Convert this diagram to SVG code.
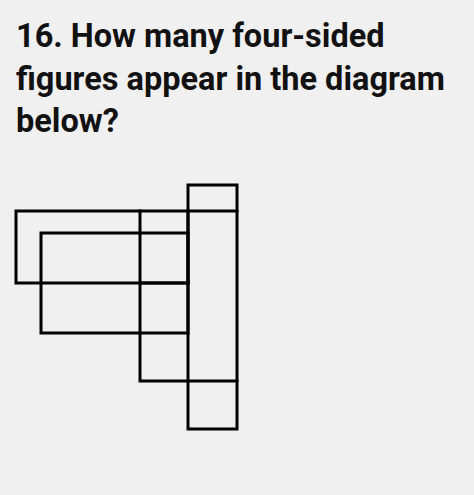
<svg xmlns="http://www.w3.org/2000/svg" width="474" height="495" viewBox="0 0 474 495">
<style>
.q{font-family:Roboto,"Liberation Sans",sans-serif;font-weight:bold;font-size:32.5px;fill:#111}
.l{fill:none;stroke:#000;stroke-width:3;stroke-linecap:square}
</style>
<rect width="474" height="495" fill="#f0f0f0"/>
<g id="question">
<text class="q" x="16" y="47">16. How many four-sided</text>
<text class="q" x="16" y="90">figures appear in the diagram</text>
<text class="q" x="16" y="132">below?</text>
</g>
<g id="figure">
<rect id="tall" class="l" x="188" y="185" width="49" height="244"/>
<rect id="rectA" class="l" x="16" y="211" width="172" height="72"/>
<rect id="rectB" class="l" x="41" y="233" width="147" height="100"/>
<path id="lines" class="l" d="M188 211H237M140 211V381H237M140 283H188"/>
</g>
</svg>
